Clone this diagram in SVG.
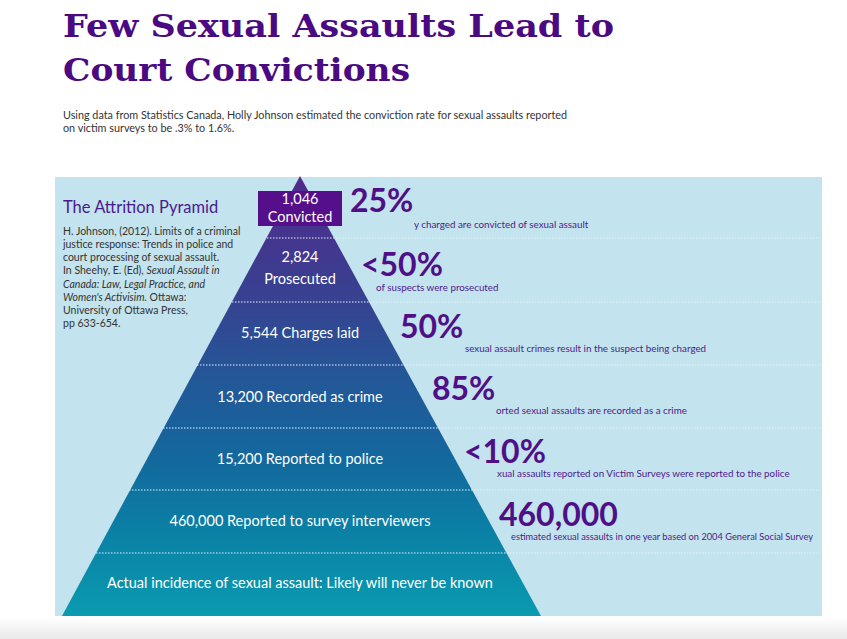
<svg xmlns="http://www.w3.org/2000/svg" width="847" height="639" viewBox="0 0 847 639">
<style>
.title{font-family:"DejaVu Serif",serif;font-weight:bold;font-size:32px;fill:#4b0a82}
.sub{font-family:Lato,"Open Sans",sans-serif;font-size:10.8px;fill:#333}
.ref{font-family:Lato,"Open Sans",sans-serif;font-size:10.5px;fill:#333}
.head{font-family:Lato,"Open Sans",sans-serif;font-size:16.5px;fill:#4a1a8c}
.lab{font-family:Lato,"Open Sans",sans-serif;font-size:14.5px;fill:#fff;text-anchor:middle}
.big{font-family:Lato,"Open Sans",sans-serif;font-weight:bold;font-size:32px;fill:#4f0f86}
.note{font-family:Lato,"Open Sans",sans-serif;font-size:9.8px;fill:#4f1a8c}
.div{stroke:#e6f3f8;stroke-width:1.2;stroke-dasharray:1.5 1.5}
</style>
<defs>
<linearGradient id="pyr" x1="0" y1="177" x2="0" y2="616" gradientUnits="userSpaceOnUse">
<stop offset="0" stop-color="#512a8c"/>
<stop offset="0.25" stop-color="#3a3f90"/>
<stop offset="0.45" stop-color="#245698"/>
<stop offset="0.65" stop-color="#13699d"/>
<stop offset="0.82" stop-color="#0a82a6"/>
<stop offset="1" stop-color="#0a9bb0"/>
</linearGradient>
<linearGradient id="shade" x1="0" y1="0" x2="0" y2="1">
<stop offset="0" stop-color="#ffffff"/>
<stop offset="1" stop-color="#e9e9e9"/>
</linearGradient>
</defs>
<rect width="847" height="639" fill="#fff"/>
<rect x="0" y="618" width="847" height="21" fill="url(#shade)"/>
<g id="title">
<text class="title" x="63" y="37" textLength="551" lengthAdjust="spacingAndGlyphs">Few Sexual Assaults Lead to</text>
<text class="title" x="63" y="81" textLength="347" lengthAdjust="spacingAndGlyphs">Court Convictions</text>
</g>
<g id="subtitle">
<text class="sub" x="63" y="119">Using data from Statistics Canada, Holly Johnson estimated the conviction rate for sexual assaults reported</text>
<text class="sub" x="63" y="132">on victim surveys to be .3% to 1.6%.</text>
</g>
<rect id="panel" x="55" y="177" width="767" height="439" fill="#c3e3ee"/>
<g id="reference">
<text class="head" x="63" y="213">The Attrition Pyramid</text>
<text class="ref" x="63" y="235">H. Johnson, (2012). Limits of a criminal</text>
<text class="ref" x="63" y="248">justice response: Trends in police and</text>
<text class="ref" x="63" y="261">court processing of sexual assault.</text>
<text class="ref" x="63" y="274">In Sheehy, E. (Ed), <tspan font-style="italic">Sexual Assault in</tspan></text>
<text class="ref" x="63" y="288" font-style="italic">Canada: Law, Legal Practice, and</text>
<text class="ref" x="63" y="301"><tspan font-style="italic">Women's Activisim.</tspan> Ottawa:</text>
<text class="ref" x="63" y="314">University of Ottawa Press,</text>
<text class="ref" x="63" y="327">pp 633-654.</text>
</g>
<g id="pyramid">
<polygon points="300,176 541,616 62,616" fill="url(#pyr)"/>
</g>
<g id="dividers">
<line class="div" x1="267" y1="238" x2="822" y2="238"/>
<line class="div" x1="232" y1="302" x2="822" y2="302"/>
<line class="div" x1="197" y1="365" x2="822" y2="365"/>
<line class="div" x1="163" y1="428" x2="822" y2="428"/>
<line class="div" x1="129" y1="490" x2="822" y2="490"/>
<line class="div" x1="96" y1="553" x2="822" y2="553"/>
</g>
<g id="convicted">
<rect x="258" y="191" width="84" height="35" fill="#550f8a"/>
<text class="lab" x="300" y="204" font-size="12">1,046</text>
<text class="lab" x="300" y="222" font-size="13">Convicted</text>
<text class="big" x="350" y="212">25%</text>
<text class="note" x="414" y="228">y charged are convicted of sexual assault</text>
</g>
<g id="prosecuted">
<text class="lab" x="300" y="262">2,824</text>
<text class="lab" x="300" y="284">Prosecuted</text>
<text class="big" x="361" y="276">&lt;50%</text>
<text class="note" x="376" y="291">of suspects were prosecuted</text>
</g>
<g id="charges">
<text class="lab" x="300" y="338">5,544 Charges laid</text>
<text class="big" x="400" y="338">50%</text>
<text class="note" x="465" y="352">sexual assault crimes result in the suspect being charged</text>
</g>
<g id="recorded">
<text class="lab" x="300" y="402">13,200 Recorded as crime</text>
<text class="big" x="432" y="400">85%</text>
<text class="note" x="496" y="414">orted sexual assaults are recorded as a crime</text>
</g>
<g id="police">
<text class="lab" x="300" y="464">15,200 Reported to police</text>
<text class="big" x="464" y="463">&lt;10%</text>
<text class="note" x="497" y="477">xual assaults reported on Victim Surveys were reported to the police</text>
</g>
<g id="survey">
<text class="lab" x="300" y="526">460,000 Reported to survey interviewers</text>
<text class="big" x="499" y="526">460,000</text>
<text class="note" x="511" y="540" textLength="302" lengthAdjust="spacingAndGlyphs">estimated sexual assaults in one year based on 2004 General Social Survey</text>
</g>
<g id="actual">
<text class="lab" x="300" y="588">Actual incidence of sexual assault: Likely will never be known</text>
</g>
</svg>
